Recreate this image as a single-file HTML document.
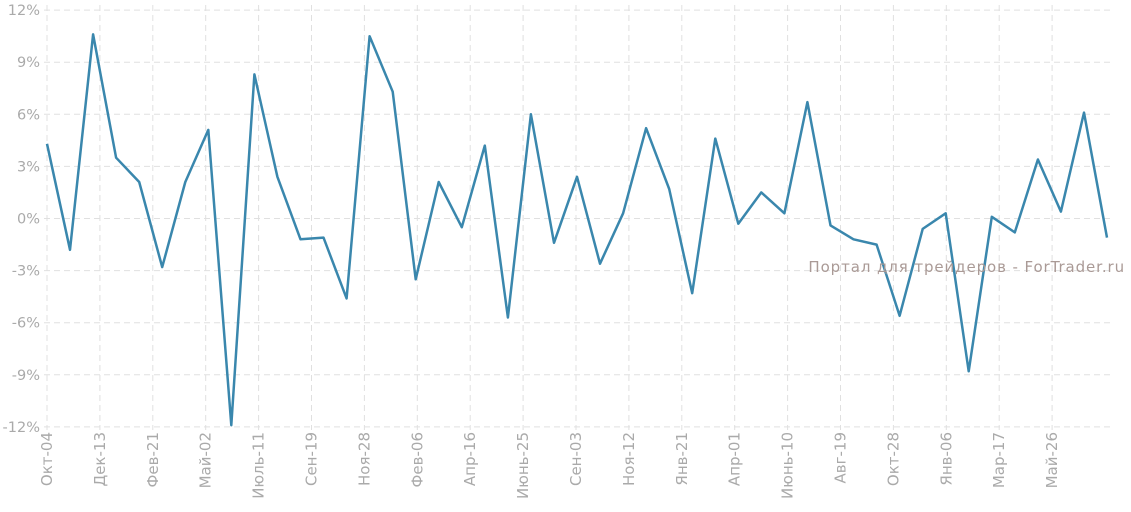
<!DOCTYPE html>
<html><head><meta charset="utf-8"><style>
html,body{margin:0;padding:0;background:#fff;}
svg{display:block;font-family:"DejaVu Sans","Liberation Sans",sans-serif;}
</style></head><body>
<svg id="c" width="1131" height="512" xmlns="http://www.w3.org/2000/svg"></svg>
<script>
const s=document.getElementById('c');const NS='http://www.w3.org/2000/svg';
function el(t,a,txt){const e=document.createElementNS(NS,t);for(const k in a)e.setAttribute(k,a[k]);if(txt!==undefined)e.textContent=txt;s.appendChild(e);return e;}
const y0=218.5,py=52.1/3;const Y=v=>y0-v*py;
for(let v=-12;v<=12;v+=3){const y=Y(v);el('line',{x1:44,x2:1110,y1:y,y2:y,stroke:'#e0e0e0','stroke-dasharray':'6,4'});
el('text',{x:40,y:y+5,'text-anchor':'end','font-size':14.5,fill:'#aaa'},v+'%');}
const labs=['Окт-04','Дек-13','Фев-21','Май-02','Июль-11','Сен-19','Ноя-28','Фев-06','Апр-16','Июнь-25','Сен-03','Ноя-12','Янв-21','Апр-01','Июнь-10','Авг-19','Окт-28','Янв-06','Мар-17','Май-26'];
labs.forEach((l,i)=>{const x=47+i*52.9;el('line',{x1:x,x2:x,y1:5,y2:430,stroke:'#e0e0e0','stroke-dasharray':'6,4'});
el('text',{x:0,y:0,transform:`translate(${x+5},432) rotate(-90)`,'text-anchor':'end','font-size':15,fill:'#aaa'},l);});
const d=[4.3,-1.8,10.6,3.5,2.1,-2.8,2.1,5.1,-11.9,8.3,2.4,-1.2,-1.1,-4.6,10.5,7.3,-3.5,2.1,-0.5,4.2,-5.7,6.0,-1.4,2.4,-2.6,0.3,5.2,1.7,-4.3,4.6,-0.3,1.5,0.3,6.7,-0.4,-1.2,-1.5,-5.6,-0.6,0.3,-8.8,0.1,-0.8,3.4,0.4,6.1,-1.1];
const n=d.length;const pts=d.map((v,i)=>(47+i*(1107-47)/(n-1)).toFixed(1)+','+Y(v).toFixed(1)).join(' ');
el('polyline',{points:pts,fill:'none',stroke:'#3a87ad','stroke-width':2.5,'stroke-linejoin':'round'});
el('text',{x:1125,y:272,'text-anchor':'end','font-size':15,'letter-spacing':'0.9',fill:'#aa9a96'},'Портал для трейдеров - ForTrader.ru');
</script>
</body></html>
